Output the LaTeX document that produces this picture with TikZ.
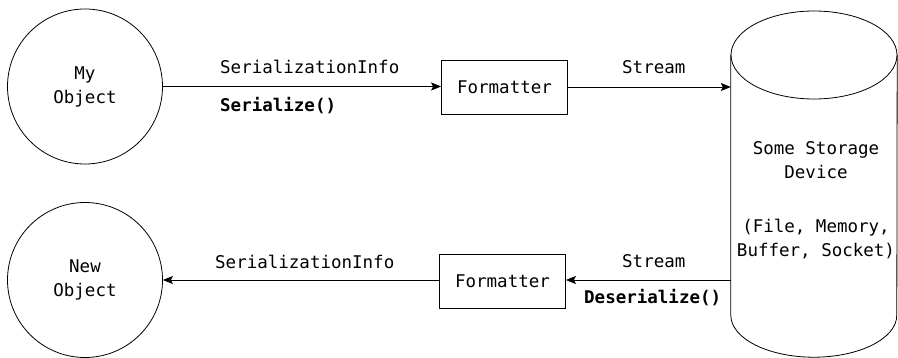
\documentclass[tikz,border=0pt]{standalone}
\usepackage{fontspec}
\setmonofont{DejaVu Sans Mono}
\usetikzlibrary{arrows.meta}
\begin{document}
\begin{tikzpicture}[x=1pt,y=-1pt,
  every node/.style={font=\ttfamily\fontsize{17.5}{24}\selectfont, text=black},
  obj/.style={draw, circle, minimum size=155pt, inner sep=0pt, align=center, line width=0.8pt},
  fmtbox/.style={draw, rectangle, minimum width=126pt, minimum height=54pt, inner sep=0pt, line width=0.8pt},
  arr/.style={line width=0.8pt, -{Stealth[length=10pt,width=8pt,inset=2pt]}},
  lbl/.style={anchor=base west, inner sep=0pt},
  cyl/.style={line width=0.8pt}]
\useasboundingbox (0,0) rectangle (898,358);
% objects
\node[obj] (myobj) at (85,86.5) {My\\Object};
\node[obj] (newobj) at (85,280) {New\\Object};
% formatters
\node[fmtbox] (fmt1) at (504.5,87) {Formatter};
\node[fmtbox] (fmt2) at (502.5,281.5) {Formatter};
% storage cylinder
\node[minimum width=166pt, minimum height=260pt, inner sep=0pt] (store) at (814,185) {};
\draw[cyl] (814,55) ellipse [x radius=83pt, y radius=44pt];
\draw[cyl] (store.north west) -- (store.south west)
  arc[start angle=180, end angle=360, x radius=83pt, y radius=42pt] -- (store.north east);
\node[align=center, inner sep=0pt] (storetext) at (816,200) {Some Storage\\Device\\[6pt]\\(File, Memory,\\Buffer, Socket)};
% connectors
\coordinate (s1) at (store.west |- fmt1);
\coordinate (s2) at (store.west |- 0,280);
\draw[arr] (myobj.east) -- (myobj.east -| fmt1.west);
\draw[arr] (fmt1.east) -- (s1);
\draw[arr] (s2) -- (s2 -| fmt2.east);
\draw[arr] (s2 -| fmt2.west) -- (newobj.east);
% labels
\node[lbl] (l1) at (220,74) {SerializationInfo};
\node[lbl] (l2) at (220,112) {\bfseries Serialize()};
\node[lbl] (l3) at (622,74) {Stream};
\node[lbl] (l4) at (215,269) {SerializationInfo};
\node[lbl] (l5) at (622,268) {Stream};
\node[lbl] (l6) at (584,304) {\bfseries Deserialize()};
\end{tikzpicture}
\end{document}
